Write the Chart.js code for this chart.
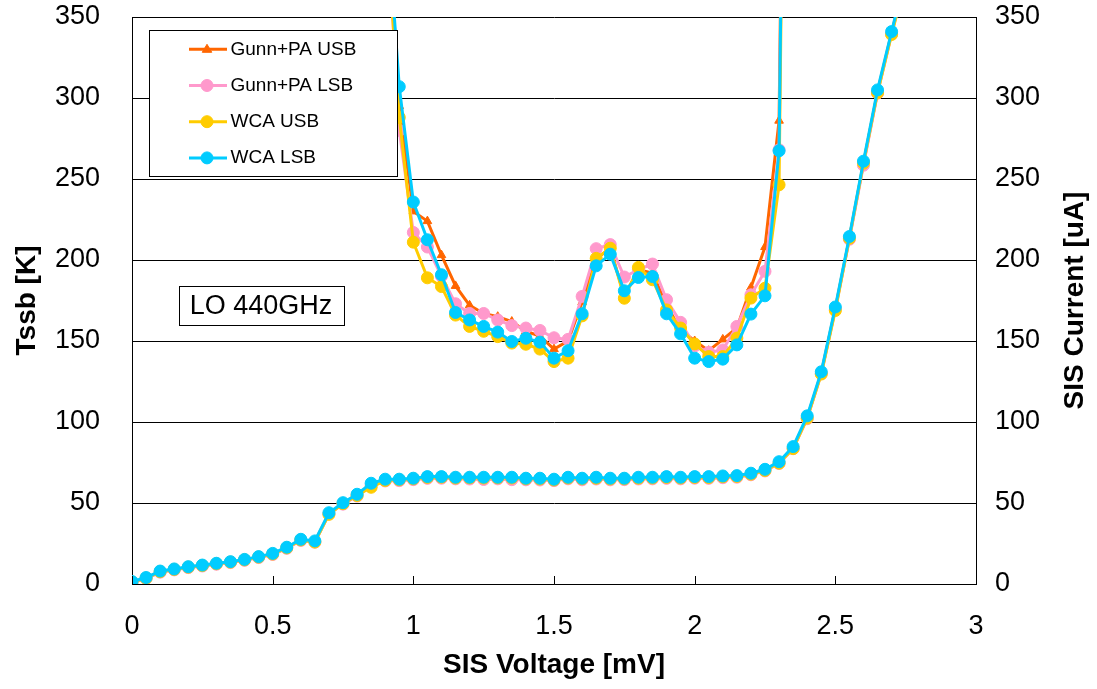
<!DOCTYPE html>
<html><head><meta charset="utf-8">
<script src="https://cdn.jsdelivr.net/npm/chart.js@4.4.1/dist/chart.umd.min.js"></script>
<style>html,body{margin:0;padding:0;background:#fff;}</style>
</head><body>
<canvas id="c" width="1097" height="689"></canvas>
<script>
// ---------- data ----------
const seriesNames = ['Gunn+PA USB', 'Gunn+PA LSB', 'WCA USB', 'WCA LSB'];
const seriesColors = ['#FF6600', '#FF99CC', '#FFCC00', '#00CCFF'];
const seriesMarkers = ['triangle', 'circle', 'circle', 'circle'];

const xTitle = 'SIS Voltage [mV]';
const yLeftTitle = 'Tssb [K]';
const yRightTitle = 'SIS Current [uA]';
const noteText = 'LO 440GHz';

// Noise temperature (left axis)
const tssbV = [0.90,0.95,1.00,1.05,1.10,1.15,1.20,1.25,1.30,1.35,1.40,1.45,1.50,1.55,1.60,1.65,1.70,1.75,1.80,1.85,1.90,1.95,2.00,2.05,2.10,2.15,2.20,2.25,2.30,2.35];
const tssbGunnUsb = [440,295,230,224,203,184,172,167,165,162,156,153,145,150,174,201,207,178,194,192,172,157,150,144,151,158,183,208,286,1000];
const tssbGunnLsb = [430,280,217,208,190,173,167,167,163,159.5,158,156.5,152,151,177.5,207,209.5,189.5,194,197.5,175.5,161.5,147,143,144.5,159,178.5,193,268,1000];
const tssbWcaUsb  = [420,288,211,189,183.6,166,159,156,152.7,148.7,148,145,137.3,139.4,165.5,201,207.3,176.4,195.4,187.8,169.2,158,148.2,140.4,140.4,151.8,176.5,182.6,246.4,1000];
const tssbWcaLsb  = [430,307,235.8,212.5,190.9,167.6,163,159,155.5,149.7,151.7,149.3,139.4,144,166.8,196.4,203.6,181,189.2,189.8,166.8,154.4,139.4,137.3,138.8,147.6,166.6,177.9,267.4,1000];

// SIS current (right axis)
const ivV = [0.00,0.05,0.10,0.15,0.20,0.25,0.30,0.35,0.40,0.45,0.50,0.55,0.60,0.65,0.70,0.75,0.80,0.85,0.90,0.95,1.00,1.05,1.10,1.15,1.20,1.25,1.30,1.35,1.40,1.45,1.50,1.55,1.60,1.65,1.70,1.75,1.80,1.85,1.90,1.95,2.00,2.05,2.10,2.15,2.20,2.25,2.30,2.35,2.40,2.45,2.50,2.55,2.60,2.65,2.70,2.75];
const ivGunnUsb = [1.1,3.5,7.5,8.8,10.3,11.2,12.4,13.3,14.8,16.4,18.4,22.2,27.0,26.0,43.4,49.5,54.5,61.0,63.8,64.0,64.6,65.4,65.5,65.1,65.0,64.8,65.0,64.6,64.5,64.4,64.0,65.1,64.5,65.0,64.5,64.6,65.0,65.1,65.4,65.1,65.5,65.4,65.8,66.1,67.6,70.0,74.7,83.8,102.6,130.2,170.0,213.6,259.6,303.8,340.2,375.0];
const ivGunnLsb = [1.0,3.4,7.3,8.7,10.1,11.1,12.2,13.2,14.6,16.3,18.2,22.0,26.9,25.8,43.2,49.3,54.3,60.8,63.6,63.8,64.4,65.2,65.3,64.9,64.8,64.5,64.9,64.4,64.3,64.2,63.8,64.9,64.3,64.8,64.3,64.4,64.8,64.9,65.2,64.9,65.3,65.2,65.6,65.9,67.4,69.8,74.4,83.5,102.0,129.8,169.6,212.8,258.5,303.0,339.5,374.0];
const ivWcaUsb  = [1.2,3.6,7.6,9.0,10.4,11.4,12.5,13.5,14.9,16.6,18.5,22.3,27.2,25.9,43.0,49.6,54.6,59.7,63.9,64.3,64.9,65.8,65.9,65.4,65.5,65.4,65.5,65.4,64.9,64.8,64.2,65.4,64.9,65.3,64.8,64.9,65.3,65.4,65.8,65.4,65.8,65.7,66.2,66.4,67.8,70.1,74.6,83.6,102.4,129.6,168.8,213.4,259.8,303.2,339.2,373.0];
const ivWcaLsb  = [1.5,4.0,8.0,9.3,10.7,11.7,12.8,13.8,15.2,16.9,18.9,22.7,27.6,26.6,44.0,50.2,55.4,62.2,64.7,64.7,65.3,66.3,66.3,65.9,65.9,65.9,65.9,65.9,65.3,65.3,64.7,65.9,65.3,65.9,65.3,65.3,65.9,65.9,66.3,65.9,66.3,66.3,66.7,66.9,68.4,70.8,75.5,84.8,103.8,131.0,171.0,214.5,261.0,305.0,341.0,376.0];

const xMin = 0, xMax = 3, xStep = 0.5;
const yMin = 0, yMax = 350, yStep = 50;

// ---------- build ----------
const FONT = "'Liberation Sans', Arial, Helvetica, sans-serif";
Chart.defaults.font.family = FONT;
Chart.defaults.color = '#000';

const tssbSets = [tssbGunnUsb, tssbGunnLsb, tssbWcaUsb, tssbWcaLsb];
const ivSets = [ivGunnUsb, ivGunnLsb, ivWcaUsb, ivWcaLsb];

function mk(label, xs, ys, i, axis, inLegend) {
  const tri = seriesMarkers[i] === 'triangle';
  return {
    label: label,
    data: xs.map((x, k) => ({x: x, y: ys[k]})),
    yAxisID: axis,
    borderColor: seriesColors[i],
    backgroundColor: seriesColors[i],
    pointBackgroundColor: seriesColors[i],
    pointBorderColor: seriesColors[i],
    pointStyle: seriesMarkers[i],
    pointRadius: tri ? 5 : 6,
    pointBorderWidth: 1,
    borderWidth: 3,
    tension: 0,
    order: 4 - i,
    inLegend: inLegend
  };
}
const datasets = [];
seriesNames.forEach((n, i) => datasets.push(mk(n, tssbV, tssbSets[i], i, 'y', true)));
seriesNames.forEach((n, i) => datasets.push(mk(n + ' I-V', ivV, ivSets[i], i, 'y2', false)));

function drawMarker(ctx, style, r, x, y, color) {
  ctx.save();
  ctx.fillStyle = color; ctx.strokeStyle = color; ctx.lineWidth = 1;
  ctx.beginPath();
  if (style === 'triangle') {
    ctx.moveTo(x, y - r);
    ctx.lineTo(x + r * 0.95, y + r * 0.6);
    ctx.lineTo(x - r * 0.95, y + r * 0.6);
    ctx.closePath();
  } else {
    ctx.arc(x, y, r, 0, Math.PI * 2);
  }
  ctx.fill(); ctx.stroke();
  ctx.restore();
}

const decor = {
  id: 'decor',
  afterDatasetsDraw(chart) {
    const ctx = chart.ctx, a = chart.chartArea;
    // legend box
    const bx = a.left + 17, by = a.top + 13, bw = 248, bh = 146;
    ctx.save();
    ctx.fillStyle = '#fff';
    ctx.fillRect(bx, by, bw, bh);
    ctx.strokeStyle = '#000'; ctx.lineWidth = 1;
    ctx.strokeRect(Math.round(bx) + 0.5, Math.round(by) + 0.5, bw, bh);
    chart.data.datasets.filter(d => d.inLegend).forEach((d, i) => {
      const cy = by + 19.3 + 36.2 * i;
      ctx.strokeStyle = d.borderColor; ctx.lineWidth = 3;
      ctx.beginPath(); ctx.moveTo(bx + 40, cy); ctx.lineTo(bx + 78, cy); ctx.stroke();
      drawMarker(ctx, d.pointStyle, d.pointRadius, bx + 58, cy, d.borderColor);
      ctx.fillStyle = '#000';
      ctx.font = '19px ' + FONT;
      ctx.textAlign = 'left'; ctx.textBaseline = 'middle';
      ctx.fillText(d.label, bx + 81.5, cy);
    });
    // note box
    const nx = a.left + 46.5, ny = a.top + 269, nw = 165, nh = 39;
    ctx.fillStyle = '#fff'; ctx.fillRect(nx, ny, nw, nh);
    ctx.strokeStyle = '#000'; ctx.lineWidth = 1;
    ctx.strokeRect(Math.round(nx) + 0.5, Math.round(ny) + 0.5, nw, nh);
    ctx.fillStyle = '#000'; ctx.font = '27px ' + FONT;
    ctx.textAlign = 'center'; ctx.textBaseline = 'middle';
    ctx.fillText(noteText, nx + nw / 2, ny + nh / 2 + 1);
    ctx.restore();
  },
  afterDraw(chart) {
    const ctx = chart.ctx, a = chart.chartArea;
    const xs = chart.scales.x;
    ctx.save();
    ctx.strokeStyle = '#000'; ctx.lineWidth = 1;
    // inward tick marks on x axis
    xs.ticks.forEach(t => {
      const px = Math.round(xs.getPixelForValue(t.value)) + 0.5;
      ctx.beginPath(); ctx.moveTo(px, a.bottom); ctx.lineTo(px, a.bottom - 8); ctx.stroke();
    });
    // inward tick marks on right axis
    const yr = chart.scales.y2;
    yr.ticks.forEach(t => {
      const py = Math.round(yr.getPixelForValue(t.value)) + 0.5;
      ctx.beginPath(); ctx.moveTo(a.right - 8, py); ctx.lineTo(a.right, py); ctx.stroke();
    });
    // right axis title, reading bottom-to-top
    ctx.translate(1075, (a.top + a.bottom) / 2);
    ctx.rotate(-Math.PI / 2);
    ctx.font = 'bold 28px ' + FONT;
    ctx.fillStyle = '#000';
    ctx.textAlign = 'center'; ctx.textBaseline = 'middle';
    ctx.fillText(yRightTitle, 0, 0);
    ctx.restore();
  }
};

const plainNum = v => String(Math.round(v * 100) / 100);

new Chart(document.getElementById('c'), {
  type: 'line',
  data: { datasets: datasets },
  options: {
    responsive: false,
    animation: false,
    events: [],
    layout: { padding: { top: 17, left: 0, right: 0, bottom: 0 } },
    plugins: { legend: { display: false }, tooltip: { enabled: false } },
    scales: {
      x: {
        type: 'linear', min: xMin, max: xMax,
        ticks: { stepSize: xStep, font: { size: 27 }, padding: 26, color: '#000', maxRotation: 0, callback: plainNum },
        grid: { display: false, drawTicks: false },
        border: { display: true, color: '#000', width: 1 },
        title: { display: true, text: xTitle, font: { size: 28, weight: 'bold' }, padding: { top: 0, bottom: 7 }, color: '#000' },
        afterFit: s => { s.height = 105; }
      },
      y: {
        type: 'linear', position: 'left', min: yMin, max: yMax,
        ticks: { stepSize: yStep, font: { size: 27 }, padding: 0, color: '#000', callback: plainNum },
        grid: { color: '#000', lineWidth: 1, drawTicks: true, tickLength: 32, tickColor: 'rgba(0,0,0,0)' },
        border: { display: true, color: '#000', width: 1 },
        title: { display: true, text: yLeftTitle, font: { size: 28, weight: 'bold' }, padding: { top: 10, bottom: 0 }, color: '#000' },
        afterFit: s => { s.width = 132; }
      },
      y2: {
        type: 'linear', position: 'right', min: yMin, max: yMax,
        ticks: { stepSize: yStep, font: { size: 27 }, padding: 0, color: '#000', callback: plainNum },
        grid: { drawOnChartArea: false, drawTicks: true, tickLength: 19, tickColor: 'rgba(0,0,0,0)' },
        border: { display: true, color: '#000', width: 1 },
        title: { display: false, text: yRightTitle },
        afterFit: s => { s.width = 121; }
      }
    }
  },
  plugins: [decor]
});
</script>
</body></html>
